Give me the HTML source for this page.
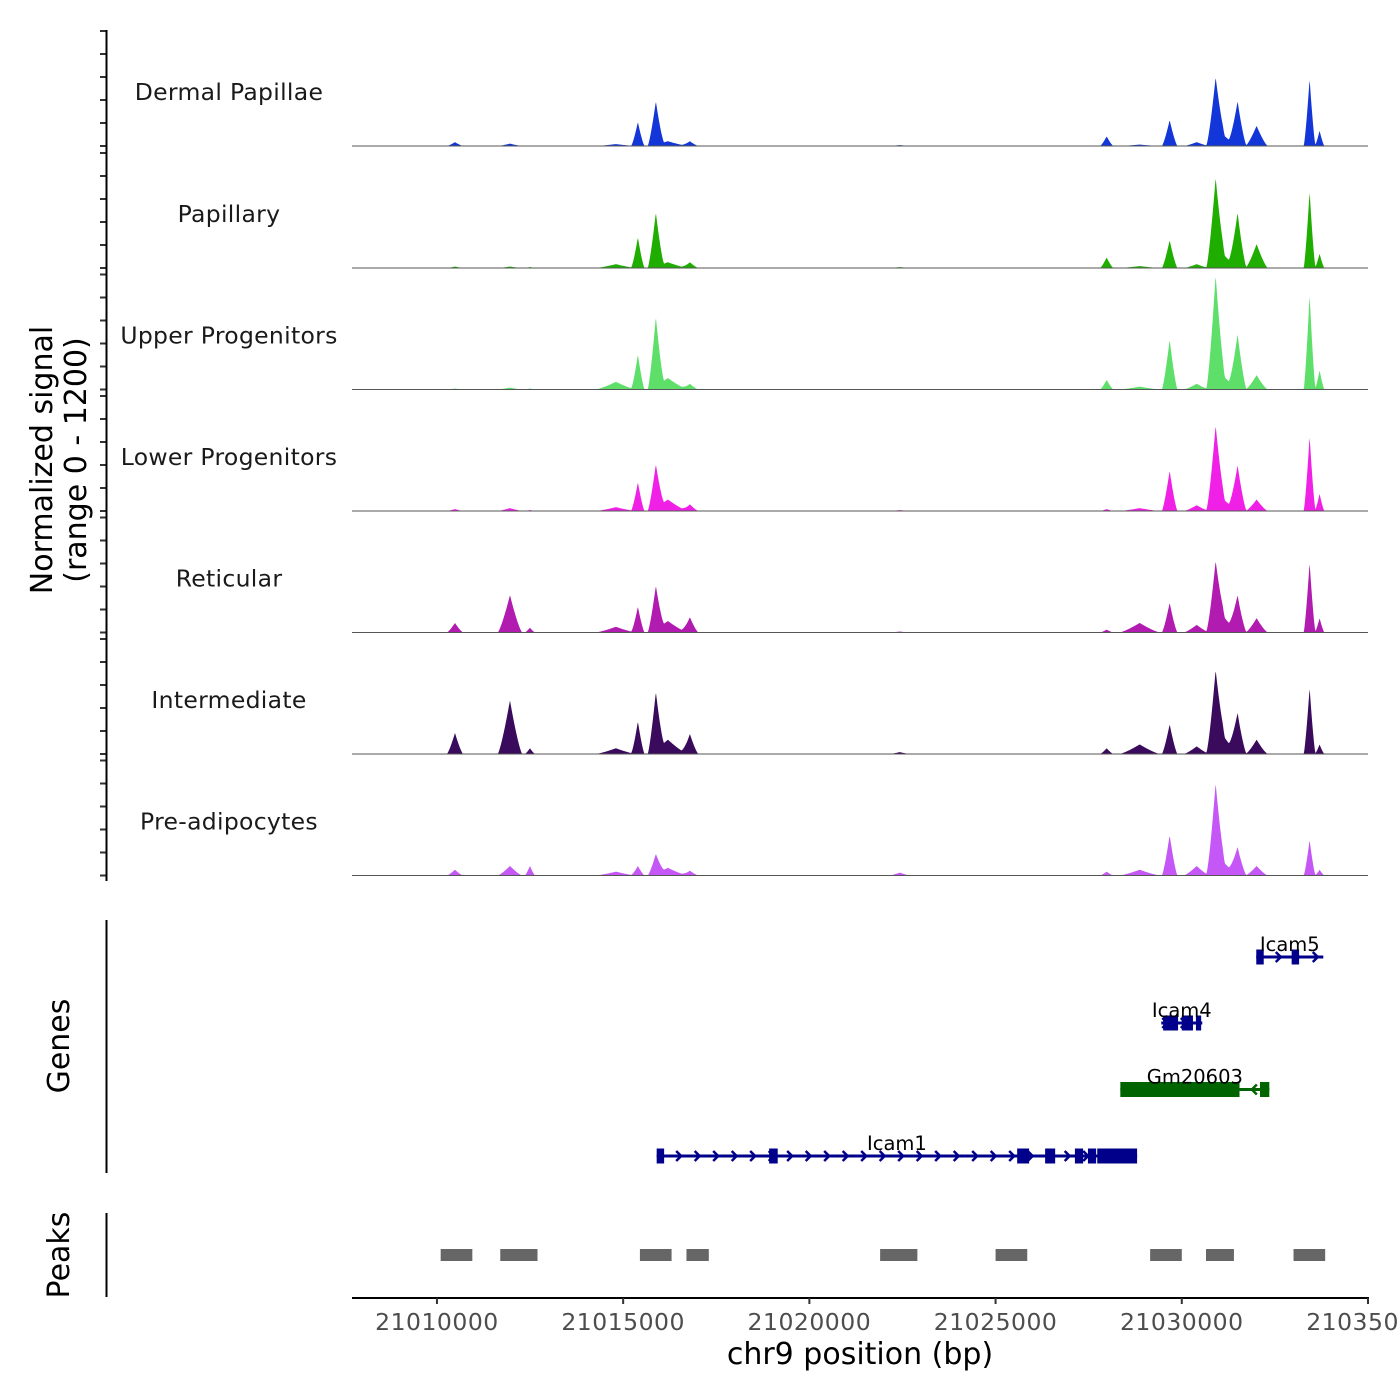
<!DOCTYPE html>
<html><head><meta charset="utf-8"><style>
html,body{margin:0;padding:0;background:#fff;}
svg{display:block;font-family:"DejaVu Sans","Liberation Sans",sans-serif;}
</style></head><body>
<svg id="chart" width="1400" height="1400" viewBox="0 0 1400 1400" xmlns="http://www.w3.org/2000/svg">
<g id="tracks"></g>
<g id="yaxis"></g>
<text transform="translate(52,460) rotate(-90)" text-anchor="middle" font-size="30" fill="#000">Normalized signal</text>
<text transform="translate(86,460) rotate(-90)" text-anchor="middle" font-size="30" fill="#000">(range 0 - 1200)</text>
<line x1="106.5" y1="920" x2="106.5" y2="1173" stroke="#000" stroke-width="2"/>
<text transform="translate(69,1046) rotate(-90)" text-anchor="middle" font-size="30">Genes</text>
<g id="genes"></g>
<line x1="106.5" y1="1213" x2="106.5" y2="1297" stroke="#000" stroke-width="2"/>
<text transform="translate(69,1255) rotate(-90)" text-anchor="middle" font-size="30">Peaks</text>
<g id="peaks"></g>
<g id="xaxis"></g>
<text x="860" y="1364" text-anchor="middle" font-size="30">chr9 position (bp)</text>
</svg>
<script>
const trackNames = ["Dermal Papillae","Papillary","Upper Progenitors","Lower Progenitors","Reticular","Intermediate","Pre-adipocytes"];
const trackColors = ["#1236d8","#1fae00","#5ddf6a","#f020e6","#b11bb0","#3a0b5c","#c457f5"];
const peakPositions = [21010484,21011960,21012497,21014805,21015395,21015878,21016200,21016791,21022427,21027983,21028869,21029674,21030909,21031499,21032009,21033432,21033700,21030400,21031100];
const peakHalfWidths = [220,330,140,550,180,220,550,230,280,180,550,210,250,240,300,160,130,350,450];
const dermalValues = [40,25,5,20,250,450,50,50,10,100,15,270,660,460,210,700,160,40,120];
const papillaryValues = [15,15,10,40,320,560,60,60,10,110,20,290,870,570,250,800,150,40,150];
const upperValues = [10,20,10,80,365,720,120,60,5,100,30,520,1120,570,150,990,200,60,150];
const lowerValues = [20,30,10,40,300,450,120,70,10,20,30,420,830,470,120,780,180,60,130];
const reticularValues = [100,390,50,60,270,450,120,160,10,30,100,310,660,380,150,730,150,80,180];
const intermediateValues = [220,560,60,60,340,600,150,210,20,60,100,310,780,420,150,690,100,80,200];
const preadipValues = [60,100,100,40,100,200,80,50,30,40,60,420,890,290,100,370,60,100,150];
const seriesValues = [dermalValues,papillaryValues,upperValues,lowerValues,reticularValues,intermediateValues,preadipValues];
const xTicks = [21010000,21015000,21020000,21025000,21030000,21035000];
const xTickLabels = ["21010000","21015000","21020000","21025000","21030000","21035000"];
const peakStarts = [21010100,21011700,21015450,21016700,21021900,21025000,21029150,21030650,21033000];
const peakEnds = [21010950,21012700,21016300,21017300,21022900,21025850,21030000,21031400,21033850];
const geneNames = ["Icam5","Icam4","Gm20603","Icam1"];
const geneStarts = [21032000,21029450,21028350,21015900];
const geneEnds = [21033800,21030550,21032350,21028800];
const geneStrands = ["+","+","-","+"];
const geneExonStarts = [[21032000,21032950],[21029500,21030000,21030380],[21028350,21032100],[21015900,21018920,21025580,21026330,21027130,21027480,21027730]];
const geneExonEnds = [[21032200,21033150],[21029900,21030300,21030520],[21031550,21032350],[21016100,21019150,21025900,21026600,21027350,21027700,21028800]];
const geneColors = ["#00008b","#00008b","#006400","#00008b"];

const NS="http://www.w3.org/2000/svg";
const X0=21007719, X1=21035000, PX0=352, PX1=1368;
function xs(bp){return PX0+(bp-X0)*(PX1-PX0)/(X1-X0);}
const baselines=[146,268,389.5,511,632.5,754,875.5];
const TH=115, VMAX=1200;
function ys(v,b){return b-v/VMAX*TH;}
function mk(tag,attrs,parent){const e=document.createElementNS(NS,tag);for(const k in attrs)e.setAttribute(k,attrs[k]);parent.appendChild(e);return e;}

const tracks=document.getElementById('tracks');
const yaxis=document.getElementById('yaxis');
seriesValues.forEach((vals,t)=>{
  const b=baselines[t];
  const g=mk('g',{},tracks);
  
  
  let d='M'+PX0+' '+b;
  for(let px=PX0;px<=PX1;px+=0.5){
    const bp=X0+(px-PX0)*(X1-X0)/(PX1-PX0);
    let v=0;
    for(let i=0;i<peakPositions.length;i++){
      const r=Math.abs(bp-peakPositions[i])/peakHalfWidths[i];
      if(r<1)v+=vals[i]*Math.pow(1-r,1.3);
    }
    v=Math.min(v,VMAX);
    d+=' L'+px.toFixed(1)+' '+ys(v,b).toFixed(2);
  }
  d+=' L'+PX1+' '+b+' Z';
  const p=mk('path',{d:d,fill:trackColors[t],stroke:'none'},g);
  
  
  const bl=mk('line',{x1:PX0,x2:PX1,y1:b,y2:b,stroke:'#555','stroke-width':1},g);
  
  
  const lab=mk('text',{x:229,y:b-46,'text-anchor':'middle','font-size':23.5,fill:'#1a1a1a','letter-spacing':'0.3'},g);
  lab.textContent=trackNames[t];
  
  
  for(let k=0;k<=5;k++){
    const y=ys(k*240,b);
    const tk=mk('line',{x1:100,x2:106,y1:y,y2:y,stroke:'#333','stroke-width':2},yaxis);
    
    
  }
});
const ax=mk('line',{x1:106.5,x2:106.5,y1:30,y2:881,stroke:'#000','stroke-width':2},yaxis);



const genes=document.getElementById('genes');
const geneY=[957,1023,1089.5,1156];
geneNames.forEach((n,i)=>{
  const g=mk('g',{},genes);
  
  
  const y=geneY[i], c=geneColors[i];
  const x1=xs(geneStarts[i]), x2=xs(geneEnds[i]);
  mk('line',{x1:x1,x2:x2,y1:y,y2:y,stroke:c,'stroke-width':3},g);
  const dir=geneStrands[i]==='+'?1:-1;
  for(let x=x1+4;x<=x2;x+=18.5){
    mk('polyline',{points:`${x-3*dir},${y-5} ${x+2*dir},${y} ${x-3*dir},${y+5}`,fill:'none',stroke:c,'stroke-width':2.5},g);
  }
  geneExonStarts[i].forEach((s,j)=>{
    const a=xs(s), e=xs(geneExonEnds[i][j]);
    const r=mk('rect',{x:a,y:y-7.5,width:Math.max(e-a,4),height:15,fill:c},g);
    
    
  });
  const lab=mk('text',{x:(x1+x2)/2,y:y-6,'text-anchor':'middle','font-size':19.5,fill:'#000'},g);
  lab.textContent=n;
  
  
});

const peaks=document.getElementById('peaks');
peakStarts.forEach((s,i)=>{
  const r=mk('rect',{x:xs(s),y:1249,width:xs(peakEnds[i])-xs(s),height:12,fill:'#666'},peaks);
  
  
});

const xa=document.getElementById('xaxis');
mk('line',{x1:PX0,x2:PX1+1,y1:1298,y2:1298,stroke:'#000','stroke-width':2},xa);
xTicks.forEach((t,i)=>{
  const x=xs(t);
  const tk=mk('line',{x1:x,x2:x,y1:1298,y2:1304,stroke:'#333','stroke-width':2},xa);
  
  
  const l=mk('text',{x:x,y:1330,'text-anchor':'middle','font-size':23.5,fill:'#4d4d4d','letter-spacing':'0.5'},xa);
  l.textContent=xTickLabels[i];
  
  
});
</script>
</body></html>
